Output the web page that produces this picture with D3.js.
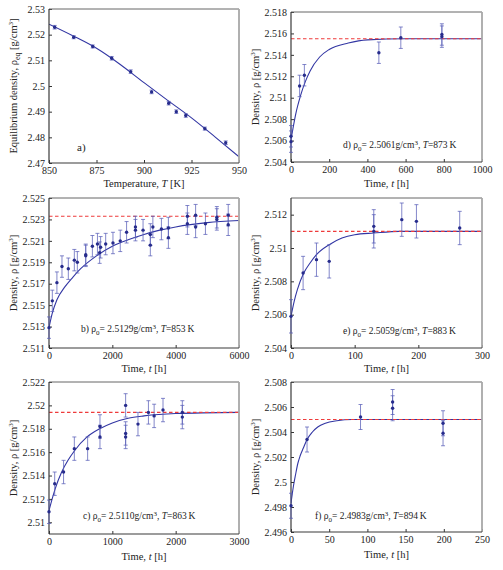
<!DOCTYPE html>
<html>
<head>
<meta charset="utf-8">
<script src="https://cdn.jsdelivr.net/npm/d3@7"></script>
<style>
  body { margin: 0; background: #fff; }
  svg { display: block; font-family: "Liberation Serif", "Times New Roman", serif; }
</style>
</head>
<body>
<div id="chart"></div>
<script>
// ---- data ----

// a) equilibrium density vs temperature
const aTemp = [853, 863, 873, 883, 893, 904, 913, 917, 922, 932, 943];
const aRho  = [2.5229, 2.5190, 2.5154, 2.5108, 2.5056, 2.4977, 2.4933, 2.4900, 2.4885, 2.4834, 2.4779];
const aErr  = [0.0007, 0.0006, 0.0006, 0.0007, 0.0007, 0.0007, 0.0007, 0.0007, 0.0007, 0.0006, 0.0007];
const aFitT   = [850, 862.5, 875, 887.5, 900, 912.5, 925, 937.5, 950];
const aFitRho = [2.5241, 2.5196, 2.5147, 2.5084, 2.5013, 2.4944, 2.4876, 2.4801, 2.4724];

// b) T = 853 K
const bTime = [0, 105, 250, 410, 610, 800, 895, 1160, 1160, 1370, 1530, 1600, 1630, 1790, 2020, 2250, 2450,
               2730, 2730, 2970, 3200, 3200, 3280, 3550, 3770, 3770, 4370, 4370, 4630, 4630, 4940, 5300, 5300, 5660, 5660];
const bRho  = [2.5129, 2.5154, 2.5171, 2.5186, 2.5184, 2.5192, 2.5190, 2.5197, 2.5196, 2.5205, 2.5207, 2.5199, 2.5204,
               2.5207, 2.5208, 2.5210, 2.5218, 2.5223, 2.5220, 2.5220, 2.5216, 2.5206, 2.5223, 2.5221, 2.5222, 2.5213,
               2.5233, 2.5226, 2.5234, 2.5223, 2.5226, 2.5232, 2.5230, 2.5234, 2.5225];
const bErr  = bTime.map(() => 0.001);
const bFitT   = [0, 100, 250, 500, 750, 1000, 1500, 2000, 2500, 3000, 3500, 4000, 5000, 6000];
const bFitRho = [2.5129, 2.5142, 2.5155, 2.5167, 2.5176, 2.5184, 2.5196, 2.5205, 2.5211, 2.5216, 2.5220, 2.5223, 2.5227, 2.5229];
const bEq = 2.5233;

// c) T = 863 K
const cTime = [0, 90, 230, 400, 610, 805, 805, 1210, 1210, 1210, 1405, 1570, 1660, 1800, 2105, 2105];
const cRho  = [2.5109, 2.5133, 2.5143, 2.5163, 2.5163, 2.5173, 2.5182, 2.5200, 2.5176, 2.5173,
               2.5184, 2.5194, 2.5191, 2.5196, 2.5194, 2.5190];
const cErr  = cTime.map(() => 0.001);
const cFitT   = [0, 50, 100, 200, 300, 400, 600, 800, 1000, 1250, 1500, 2000, 3000];
const cFitRho = [2.5110, 2.5120, 2.5129, 2.5143, 2.5153, 2.5161, 2.5173, 2.5180, 2.5185, 2.5189, 2.5191, 2.5193, 2.5194];
const cEq = 2.5194;

// d) T = 873 K
const dTime = [0, 0, 45, 70, 460, 575, 790, 790];
const dRho  = [2.5064, 2.5059, 2.5111, 2.5121, 2.5142, 2.5156, 2.5159, 2.5157];
const dErr  = dTime.map(() => 0.001);
const dFitT   = [0, 10, 25, 50, 75, 100, 150, 200, 300, 400, 600, 1000];
const dFitRho = [2.5061, 2.5071, 2.5085, 2.5102, 2.5115, 2.5125, 2.5138, 2.5145, 2.5151, 2.5154, 2.5155, 2.5155];
const dEq = 2.5155;

// e) T = 883 K
const eTime = [0, 19, 40, 60, 130, 130, 174, 197, 265];
const eRho  = [2.5059, 2.5085, 2.5093, 2.5092, 2.5113, 2.5110, 2.5117, 2.5116, 2.5112];
const eErr  = eTime.map(() => 0.001);
const eFitT   = [0, 5, 10, 20, 30, 40, 60, 80, 100, 130, 170, 300];
const eFitRho = [2.5059, 2.5068, 2.5075, 2.5085, 2.5091, 2.5096, 2.5102, 2.5106, 2.5108, 2.5109, 2.5110, 2.5110];
const eEq = 2.5110;

// f) T = 894 K
const fTime = [0, 21, 91, 133, 133, 199, 199];
const fRho  = [2.4981, 2.5034, 2.5052, 2.5064, 2.5059, 2.5047, 2.5039];
const fErr  = fTime.map(() => 0.001);
const fFitT   = [0, 3, 6, 9, 12, 16, 21, 28, 35, 45, 60, 80, 250];
const fFitRho = [2.4983, 2.4996, 2.5006, 2.5015, 2.5021, 2.5027, 2.5034, 2.5040, 2.5044, 2.5047, 2.5049, 2.5050, 2.5050];
const fEq = 2.5050;

// tick values
const aXTicks = [850, 875, 900, 925, 950];
const aYTicks = [2.47, 2.48, 2.49, 2.50, 2.51, 2.52, 2.53];
const bXTicks = [0, 2000, 4000, 6000];
const bYTicks = [2.511, 2.513, 2.515, 2.517, 2.519, 2.521, 2.523, 2.525];
const cXTicks = [0, 1000, 2000, 3000];
const cYTicks = [2.510, 2.512, 2.514, 2.516, 2.518, 2.520, 2.522];
const dXTicks = [0, 200, 400, 600, 800, 1000];
const dYTicks = [2.504, 2.506, 2.508, 2.510, 2.512, 2.514, 2.516, 2.518];
const eXTicks = [0, 100, 200, 300];
const eYTicks = [2.504, 2.506, 2.508, 2.510, 2.512];
const fXTicks = [0, 50, 100, 150, 200, 250];
const fYTicks = [2.496, 2.498, 2.500, 2.502, 2.504, 2.506, 2.508];

// ---- layout ----
const width = 503, height = 570;
const colL = { left: 49, right: 239 };
const colR = { left: 291, right: 482 };

const svg = d3.select('#chart').append('svg')
    .attr('width', width)
    .attr('height', height);

const panels = [
  { id: 'a', box: { ...colL, top: 9, bottom: 163 }, xDomain: [850, 950], yDomain: [2.47, 2.53],
    xs: aTemp, ys: aRho, errs: aErr, fitX: aFitT, fitY: aFitRho, eq: null,
    xTicks: aXTicks, yTicks: aYTicks, xTitle: 'temp', yTitle: 'eq', xTitleY: 187,
    label: { x: 77, y: 151, letter: 'a' } },
  { id: 'd', box: { ...colR, top: 12, bottom: 162 }, xDomain: [0, 1000], yDomain: [2.504, 2.518],
    xs: dTime, ys: dRho, errs: dErr, fitX: dFitT, fitY: dFitRho, eq: dEq,
    xTicks: dXTicks, yTicks: dYTicks, xTitle: 'time', yTitle: 'rho', xTitleY: 187,
    label: { x: 343, y: 148, letter: 'd', rho0: '2.5061', temp: 873 } },
  { id: 'b', box: { ...colL, top: 198, bottom: 348 }, xDomain: [0, 6000], yDomain: [2.511, 2.525],
    xs: bTime, ys: bRho, errs: bErr, fitX: bFitT, fitY: bFitRho, eq: bEq,
    xTicks: bXTicks, yTicks: bYTicks, xTitle: 'time', yTitle: 'rho', xTitleY: 372,
    label: { x: 81, y: 332, letter: 'b', rho0: '2.5129', temp: 853 } },
  { id: 'e', box: { ...colR, top: 198, bottom: 348 }, xDomain: [0, 300], yDomain: [2.504, 2.513],
    xs: eTime, ys: eRho, errs: eErr, fitX: eFitT, fitY: eFitRho, eq: eEq,
    xTicks: eXTicks, yTicks: eYTicks, xTitle: 'time', yTitle: 'rho', xTitleY: 372,
    label: { x: 343, y: 334, letter: 'e', rho0: '2.5059', temp: 883 } },
  { id: 'c', box: { ...colL, top: 382, bottom: 534 }, xDomain: [0, 3000], yDomain: [2.509, 2.522],
    xs: cTime, ys: cRho, errs: cErr, fitX: cFitT, fitY: cFitRho, eq: cEq,
    xTicks: cXTicks, yTicks: cYTicks, xTitle: 'time', yTitle: 'rho', xTitleY: 560,
    label: { x: 83, y: 519, letter: 'c', rho0: '2.5110', temp: 863 } },
  { id: 'f', box: { ...colR, top: 382, bottom: 532 }, xDomain: [0, 250], yDomain: [2.496, 2.508],
    xs: fTime, ys: fRho, errs: fErr, fitX: fFitT, fitY: fFitRho, eq: fEq,
    xTicks: fXTicks, yTicks: fYTicks, xTitle: 'time', yTitle: 'rho', xTitleY: 558,
    label: { x: 315, y: 519, letter: 'f', rho0: '2.4983', temp: 894 } }
];

// Mathematica-style numbers: drop trailing zeros
const fmt = v => String(+v.toFixed(4));

const pointColor = '#272c8c';
const barColor = '#5a5fb8';
const fitColor = '#3236a3';
const eqColor = '#ee3b3b';

function drawPanel(p) {
  const b = p.box;
  const x = d3.scaleLinear().domain(p.xDomain).range([b.left, b.right]);
  const y = d3.scaleLinear().domain(p.yDomain).range([b.bottom, b.top]);
  const g = svg.append('g').attr('class', 'panel-' + p.id);

  g.append('clipPath').attr('id', 'clip-' + p.id)
    .append('rect')
    .attr('x', b.left).attr('y', b.top)
    .attr('width', b.right - b.left).attr('height', b.bottom - b.top);

  // curves are clipped to the frame, data marks are not
  const plot = g.append('g').attr('clip-path', `url(#clip-${p.id})`);
  const marks = g.append('g');

  // fitted curve
  const line = d3.line()
      .x(d => x(d[0]))
      .y(d => y(d[1]))
      .curve(d3.curveMonotoneX);
  plot.append('path')
    .datum(d3.zip(p.fitX, p.fitY))
    .attr('d', line)
    .attr('fill', 'none')
    .attr('stroke', fitColor)
    .attr('stroke-width', 1.1);

  // equilibrium level
  if (p.eq != null) {
    plot.append('line')
      .attr('x1', x(p.xDomain[0])).attr('x2', x(p.xDomain[1]))
      .attr('y1', y(p.eq)).attr('y2', y(p.eq))
      .attr('stroke', eqColor)
      .attr('stroke-width', 1.1)
      .attr('stroke-dasharray', '3.5,2.5');
  }

  // error bars
  const pts = p.xs.map((v, i) => ({ x: v, y: p.ys[i], e: p.errs[i] }));
  const bars = marks.selectAll('.bar').data(pts).join('g')
      .attr('class', 'bar')
      .attr('stroke', barColor)
      .attr('stroke-opacity', 0.75)
      .attr('stroke-width', 1);
  bars.append('line')
    .attr('x1', d => x(d.x)).attr('x2', d => x(d.x))
    .attr('y1', d => y(d.y - d.e)).attr('y2', d => y(d.y + d.e));
  bars.append('line')
    .attr('x1', d => x(d.x) - 2).attr('x2', d => x(d.x) + 2)
    .attr('y1', d => y(d.y + d.e)).attr('y2', d => y(d.y + d.e));
  bars.append('line')
    .attr('x1', d => x(d.x) - 2).attr('x2', d => x(d.x) + 2)
    .attr('y1', d => y(d.y - d.e)).attr('y2', d => y(d.y - d.e));

  // axes with inward ticks
  const xAxis = g.append('g')
    .attr('transform', `translate(0,${b.bottom})`)
    .call(d3.axisBottom(x).tickValues(p.xTicks).tickFormat(fmt).tickSize(-3).tickPadding(4));
  const yAxis = g.append('g')
    .attr('transform', `translate(${b.left},0)`)
    .call(d3.axisLeft(y).tickValues(p.yTicks).tickFormat(fmt).tickSize(-3).tickPadding(4));
  [xAxis, yAxis].forEach(ax => {
    ax.select('.domain').remove();
    ax.selectAll('.tick line').attr('stroke', '#333');
    ax.selectAll('.tick text')
      .attr('fill', '#222')
      .style('font-family', '"Liberation Serif", serif')
      .style('font-size', '10px');
  });

  // frame: dark left/bottom, grey top/right
  g.append('line').attr('x1', b.left).attr('x2', b.right).attr('y1', b.top).attr('y2', b.top)
    .attr('stroke', '#666').attr('stroke-width', 1);
  g.append('line').attr('x1', b.right).attr('x2', b.right).attr('y1', b.top).attr('y2', b.bottom)
    .attr('stroke', '#a8a8a8').attr('stroke-width', 1.8);
  g.append('line').attr('x1', b.left).attr('x2', b.left).attr('y1', b.top).attr('y2', b.bottom)
    .attr('stroke', '#3a3a3a').attr('stroke-width', 1.2);
  g.append('line').attr('x1', b.left).attr('x2', b.right).attr('y1', b.bottom).attr('y2', b.bottom)
    .attr('stroke', '#3a3a3a').attr('stroke-width', 1.2);

  // points on top of the frame
  marks.raise();
  marks.selectAll('.pt').data(pts).join('circle')
    .attr('class', 'pt')
    .attr('cx', d => x(d.x))
    .attr('cy', d => y(d.y))
    .attr('r', 1.7)
    .attr('fill', pointColor);

  // x title
  const xt = g.append('text')
    .attr('x', (b.left + b.right) / 2)
    .attr('y', p.xTitleY)
    .attr('text-anchor', 'middle')
    .attr('fill', '#222')
    .style('font-size', '10.5px');
  if (p.xTitle === 'temp') {
    xt.append('tspan').text('Temperature, ');
    xt.append('tspan').attr('font-style', 'italic').text('T');
    xt.append('tspan').text(' [K]');
  } else {
    xt.append('tspan').text('Time, ');
    xt.append('tspan').attr('font-style', 'italic').text('t');
    xt.append('tspan').text(' [h]');
  }

  // y title
  const cx = b.left - 32;
  const cy = (b.top + b.bottom) / 2;
  const yt = g.append('text')
    .attr('transform', `translate(${cx},${cy}) rotate(-90)`)
    .attr('text-anchor', 'middle')
    .attr('fill', '#222')
    .style('font-size', '10.5px');
  if (p.yTitle === 'eq') {
    yt.append('tspan').text('Equilibrium density, \u03c1');
    yt.append('tspan').attr('dy', 3).style('font-size', '8px').text('eq');
    yt.append('tspan').attr('dy', -3).text(' [g/cm');
  } else {
    yt.append('tspan').text('Density, \u03c1 [g/cm');
  }
  yt.append('tspan').attr('dy', -4).style('font-size', '7px').text('3');
  yt.append('tspan').attr('dy', 4).text(']');

  // panel label
  const L = p.label;
  const lt = g.append('text')
    .attr('x', L.x).attr('y', L.y)
    .attr('fill', '#222');
  if (L.rho0 == null) {
    lt.style('font-size', '11px').text(L.letter + ')');
  } else {
    lt.style('font-size', '9.5px');
    lt.append('tspan').text(L.letter + ') \u03c1');
    lt.append('tspan').attr('dy', 2.5).style('font-size', '7px').text('0');
    lt.append('tspan').attr('dy', -2.5).text('= ' + L.rho0 + 'g/cm');
    lt.append('tspan').attr('dy', -3.5).style('font-size', '7px').text('3');
    lt.append('tspan').attr('dy', 3.5).text(', ');
    lt.append('tspan').attr('font-style', 'italic').text('T');
    lt.append('tspan').text('=' + L.temp + '\u2009K');
  }
}

panels.forEach(drawPanel);
</script>
</body>
</html>
